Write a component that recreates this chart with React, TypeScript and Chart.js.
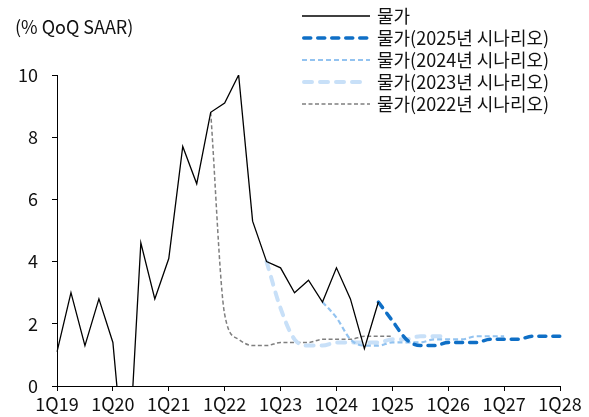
import React, { useEffect, useRef } from 'react';
import { Chart, registerables } from 'chart.js';

Chart.register(...registerables);

const quarters = [
  '1Q19', '2Q19', '3Q19', '4Q19', '1Q20', '2Q20', '3Q20', '4Q20',
  '1Q21', '2Q21', '3Q21', '4Q21', '1Q22', '2Q22', '3Q22', '4Q22',
  '1Q23', '2Q23', '3Q23', '4Q23', '1Q24', '2Q24', '3Q24', '4Q24',
  '1Q25', '2Q25', '3Q25', '4Q25', '1Q26', '2Q26', '3Q26', '4Q26',
  '1Q27', '2Q27', '3Q27', '4Q27', '1Q28',
];

const yTicks = [0, 2, 4, 6, 8, 10];

const actualStart = 0;
const actual = [1.1, 3.0, 1.3, 2.8, 1.4, -3.5, 4.6, 2.8, 4.1, 7.7, 6.5, 8.8, 9.1, 10.0, 5.3, 4.0, 3.8, 3.0, 3.4, 2.7, 3.8, 2.8, 1.2, 2.7];

const scen2025Start = 23;
const scen2025 = [2.7, 2.1, 1.5, 1.3, 1.3, 1.4, 1.4, 1.4, 1.5, 1.5, 1.5, 1.6, 1.6, 1.6];

const scen2024Start = 19;
const scen2024 = [2.7, 2.2, 1.5, 1.3, 1.3, 1.4, 1.4, 1.4, 1.5, 1.5, 1.5, 1.6, 1.6, 1.6];

const scen2023Start = 15;
const scen2023 = [4.0, 2.5, 1.5, 1.3, 1.3, 1.4, 1.4, 1.4, 1.4, 1.5, 1.5, 1.6, 1.6, 1.6];

const scen2022Start = 11;
const scen2022 = [8.8, 2.3, 1.5, 1.3, 1.3, 1.4, 1.4, 1.4, 1.5, 1.5, 1.5, 1.6, 1.6, 1.6];

function place(start: number, values: number[]): (number | null)[] {
  const out: (number | null)[] = quarters.map(() => null);
  values.forEach((v, i) => { out[start + i] = v; });
  return out;
}

const FONT = '"Noto Sans CJK KR", "Noto Sans", sans-serif';
const FS = 18;

const overlayPlugin = {
  id: 'overlay',
  afterDraw(chart: any) {
    const ctx = chart.ctx;
    ctx.save();
    ctx.font = `${FS}px ${FONT}`;
    ctx.fillStyle = '#111';
    ctx.textBaseline = 'middle';
    ctx.textAlign = 'left';
    ctx.fillText('(% QoQ SAAR)', 15, 27);
    chart.data.datasets.forEach((ds: any, i: number) => {
      const y = 16 + i * 22;
      const w = ds.borderWidth;
      const cap = ds.borderCapStyle || 'butt';
      const inset = cap === 'round' ? w / 2 : 0;
      ctx.beginPath();
      ctx.setLineDash(ds.borderDash || []);
      ctx.lineWidth = w;
      ctx.strokeStyle = ds.borderColor;
      ctx.lineCap = cap;
      ctx.moveTo(302 + inset, y);
      ctx.lineTo(370 - inset, y);
      ctx.stroke();
      ctx.setLineDash([]);
      ctx.fillText(ds.label, 377, y);
    });
    ctx.restore();
  },
};

export default function App() {
  const ref = useRef<HTMLCanvasElement | null>(null);

  useEffect(() => {
    if (!ref.current) return;
    Chart.defaults.font.family = FONT;
    const chart = new Chart(ref.current, {
      type: 'line',
      data: {
        labels: quarters,
        datasets: [
          {
            label: '물가',
            data: place(actualStart, actual),
            borderColor: '#000000',
            borderWidth: 1.3,
            pointRadius: 0,
            tension: 0,
          },
          {
            label: '물가(2025년 시나리오)',
            data: place(scen2025Start, scen2025),
            borderColor: '#0F6FC6',
            borderWidth: 3.5,
            borderDash: [7, 7],
            borderCapStyle: 'round',
            pointRadius: 0,
            cubicInterpolationMode: 'monotone',
          },
          {
            label: '물가(2024년 시나리오)',
            data: place(scen2024Start, scen2024),
            borderColor: '#93C3F0',
            borderWidth: 2.2,
            borderDash: [5, 3],
            pointRadius: 0,
            cubicInterpolationMode: 'monotone',
          },
          {
            label: '물가(2023년 시나리오)',
            data: place(scen2023Start, scen2023),
            borderColor: '#C8E0F8',
            borderWidth: 4,
            borderDash: [8, 8],
            borderCapStyle: 'round',
            pointRadius: 0,
            cubicInterpolationMode: 'monotone',
          },
          {
            label: '물가(2022년 시나리오)',
            data: place(scen2022Start, scen2022),
            borderColor: '#7F7F7F',
            borderWidth: 1.5,
            borderDash: [4, 2.5],
            pointRadius: 0,
            cubicInterpolationMode: 'monotone',
          },
        ],
      },
      options: {
        animation: false,
        responsive: true,
        maintainAspectRatio: false,
        layout: { padding: { top: 75, right: 29, left: 0, bottom: 0 } },
        plugins: {
          legend: { display: false },
          tooltip: { enabled: false },
        },
        scales: {
          x: {
            type: 'category',
            offset: false,
            afterBuildTicks: (scale: any) => {
              scale.ticks = scale.ticks.filter((t: any) => quarters[t.value].startsWith('1Q'));
            },
            afterFit: (scale: any) => { scale.height = 31; },
            ticks: {
              autoSkip: false,
              maxRotation: 0,
              padding: 2,
              color: '#111',
              font: { size: FS, family: FONT },
            },
            grid: {
              display: true,
              drawOnChartArea: false,
              drawTicks: true,
              tickLength: 5,
              color: '#000',
            },
            border: { display: true, color: '#000', width: 1 },
          },
          y: {
            min: 0,
            max: 10,
            afterBuildTicks: (scale: any) => {
              scale.ticks = yTicks.map((v) => ({ value: v }));
            },
            afterFit: (scale: any) => { scale.width = 57; },
            ticks: {
              padding: 14,
              color: '#111',
              font: { size: FS, family: FONT },
            },
            grid: {
              display: true,
              drawOnChartArea: false,
              drawTicks: true,
              tickLength: 5,
              color: '#000',
            },
            border: { display: true, color: '#000', width: 1 },
          },
        },
      },
      plugins: [overlayPlugin],
    } as any);
    return () => chart.destroy();
  }, []);

  return (
    <div style={{ position: 'fixed', left: 0, top: 0, width: 589, height: 417, background: '#fff' }}>
      <canvas ref={ref} />
    </div>
  );
}
